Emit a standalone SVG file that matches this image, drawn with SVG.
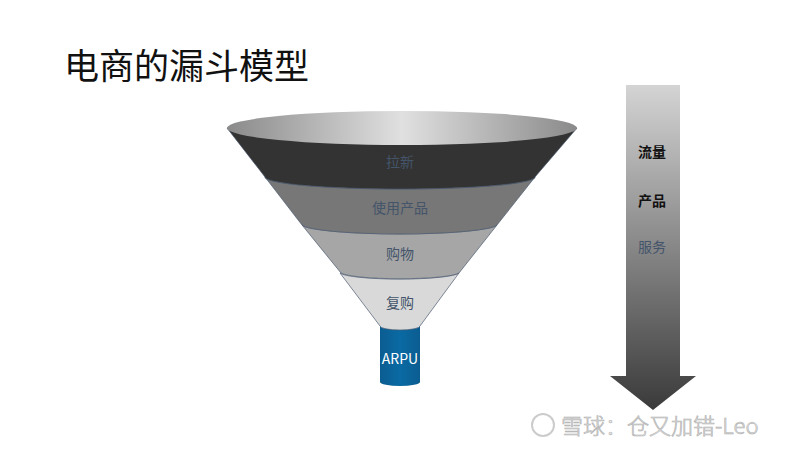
<svg xmlns="http://www.w3.org/2000/svg" width="800" height="450" viewBox="0 0 800 450">
<defs>
<linearGradient id="top" x1="0" x2="1" y1="0" y2="0"><stop offset="0" stop-color="#8a8a8a"/><stop offset="0.5" stop-color="#e0e0e0"/><stop offset="1" stop-color="#8a8a8a"/></linearGradient>
<linearGradient id="arr" x1="0" x2="0" y1="0" y2="1"><stop offset="0" stop-color="#d4d4d4"/><stop offset="1" stop-color="#3a3a3a"/></linearGradient>
<linearGradient id="cyl" x1="0" x2="1"><stop offset="0" stop-color="#0b5d91"/><stop offset="0.5" stop-color="#0a6aa3"/><stop offset="1" stop-color="#0b5d91"/></linearGradient>
</defs>
<style>
.cj{font-family:"Noto Sans CJK SC","Noto Sans",sans-serif;text-anchor:middle}
.lbl{font-size:14px;fill:#44546a}
.band{stroke:#4a5a70;stroke-width:0.7}
</style>
<rect width="800" height="450" fill="#fff"/>
<text x="64" y="79" style="font-family:'Noto Sans CJK SC',sans-serif;font-size:35px" fill="#111">电商的漏斗模型</text>
<g id="cylinder">
<path d="M380,320 L380,382 A20,4 0 0 0 420,382 L420,320 Z" fill="url(#cyl)"/>
<text x="400" y="364" class="cj" style="font-size:14px" fill="#fff">ARPU</text>
</g>
<g id="layer4">
<path class="band" d="M340,273 L380,326 A20,4 0 0 0 420,326 L459,273 A60,7 0 0 1 340,273 Z" fill="#d9d9d9"/>
<text x="400" y="308" class="cj lbl">复购</text>
</g>
<g id="layer3">
<path class="band" d="M302,225 L341,273 A60,7 0 0 0 459,273 L497,225 A98,10 0 0 1 302,225 Z" fill="#a6a6a6"/>
<text x="400" y="259" class="cj lbl">购物</text>
</g>
<g id="layer2">
<path class="band" d="M265,177 L302,225 A98,10 0 0 0 497,225 L535,177 A135,12 0 0 1 265,177 Z" fill="#777"/>
<text x="400" y="213" class="cj lbl">使用产品</text>
</g>
<g id="layer1">
<path class="band" d="M227,128 L265,177 A135,12 0 0 0 535,177 L577,128 Z" fill="#333"/>
<text x="400" y="167" class="cj lbl">拉新</text>
</g>
<g id="top">
<ellipse cx="402" cy="128" rx="175" ry="17" fill="url(#top)"/>
</g>
<g id="arrow">
<path d="M626,85 L680,85 L680,376 L696,376 L653,410 L610,376 L626,376 Z" fill="url(#arr)"/>
<text x="652" y="157" class="cj" style="font-size:14px;font-weight:bold" fill="#111">流量</text>
<text x="652" y="206" class="cj" style="font-size:14px;font-weight:bold" fill="#111">产品</text>
<text x="652" y="252" class="cj" style="font-size:14px" fill="#44546a">服务</text>
</g>
<g id="watermark">
<circle cx="543" cy="425" r="11" fill="none" stroke="#ccc" stroke-width="2"/>
<text x="561" y="434" style="font-family:'Noto Sans CJK SC',sans-serif;font-size:22px;font-weight:300" fill="#e4e4e4" stroke="#b0b0b0" stroke-width="0.6">雪球：仓又加错-Leo</text>
</g>
</svg>
